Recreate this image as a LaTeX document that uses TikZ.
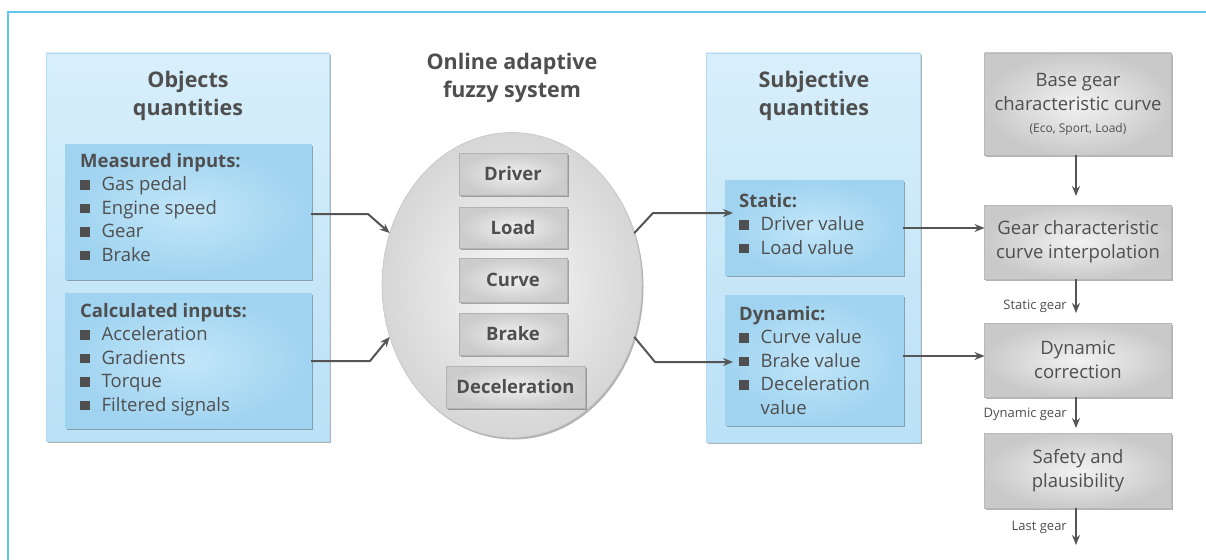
\documentclass[tikz,border=0pt]{standalone}
\usepackage{fontspec}
\setmainfont{Open Sans}
\usetikzlibrary{shapes.geometric,shadows,arrows.meta,calc}
\definecolor{txt}{HTML}{4F4F4F}
\definecolor{framec}{HTML}{5CC8EE}
\definecolor{bigtop}{HTML}{D8EFFB}
\definecolor{bigbot}{HTML}{BAE1F6}
\definecolor{inin}{HTML}{C2E6F9}
\definecolor{inout}{HTML}{9FD3F0}
\definecolor{arr}{HTML}{555555}
\newcommand\bul{\rule[1pt]{9.5pt}{9.5pt}}
\tikzset{
  shd/.style={drop shadow={shadow xshift=1.5pt,shadow yshift=-2pt,opacity=0.3,fill=black}},
  bigbox/.style={shd,draw=inout!80,line width=0.6pt,top color=bigtop,bottom color=bigbot,inner sep=0pt,outer sep=0pt,anchor=north west},
  inbox/.style={shd,draw=inout,line width=0.6pt,shading=radial,inner color=inin,outer color=inout,inner sep=0pt,outer sep=0pt,anchor=north west},
  graybox/.style={shd,draw=gray!55,line width=0.6pt,shading=radial,inner color=gray!10,outer color=gray!42,text=txt,align=center,outer sep=0pt,inner sep=0pt,font=\fontsize{18.5}{24}\selectfont},
  fzbox/.style={shd,draw=gray!60,line width=0.6pt,shading=radial,inner color=gray!12,outer color=gray!40,text=txt,font=\bfseries\fontsize{18.5}{20}\selectfont,inner sep=0pt,outer sep=0pt},
  ttl/.style={text=txt,align=center,font=\bfseries\fontsize{21.5}{28}\selectfont,inner sep=0pt},
  lst/.style={text=txt,inner sep=0pt,anchor=north west,font=\fontsize{18.5}{23.5}\selectfont},
  lbl/.style={text=txt,inner sep=0pt,anchor=base east,font=\fontsize{13}{15}\selectfont},
  con/.style={draw=arr,line width=2pt,-{Stealth[length=10pt,width=8pt]}},
}
\begin{document}
\begin{tikzpicture}[x=1pt,y=-1pt]
\path[use as bounding box,fill=white] (0,0) rectangle (1206,559);
\draw[framec,line width=1.8pt] (1210,12) -- (8,12) -- (8,562);

% left panel
\node[bigbox,minimum width=283,minimum height=388] (objq) at (46,53) {};
\node[ttl] (objqt) at (188,96) {Objects\\quantities};
\node[inbox,minimum width=246,minimum height=135] (meas) at (65,144) {};
\node[lst] (meast) at (80,150.5) {\begin{tabular}{@{}l@{\hspace{12pt}}l@{}}
\multicolumn{2}{@{}l@{}}{\bfseries Measured inputs:}\\
\bul & Gas pedal\\ \bul & Engine speed\\ \bul & Gear\\ \bul & Brake\end{tabular}};
\node[inbox,minimum width=246,minimum height=135] (calc) at (65,293) {};
\node[lst] (calct) at (80,300.5) {\begin{tabular}{@{}l@{\hspace{12pt}}l@{}}
\multicolumn{2}{@{}l@{}}{\bfseries Calculated inputs:}\\
\bul & Acceleration\\ \bul & Gradients\\ \bul & Torque\\ \bul & Filtered signals\end{tabular}};

% fuzzy system
\node[ttl] (fzt) at (512,78) {Online adaptive\\fuzzy system};
\node[ellipse,shd,draw=gray!45,line width=0.6pt,shading=radial,inner color=gray!6,outer color=gray!32,minimum width=260,minimum height=305,inner sep=0pt,outer sep=0pt] (ell) at (512,285) {};
\node[fzbox,minimum width=108,minimum height=42] (drv) at (513,174) {Driver};
\node[fzbox,minimum width=108,minimum height=41] (lod) at (513,227.5) {Load};
\node[fzbox,minimum width=108,minimum height=44] (crv) at (513,280) {Curve};
\node[fzbox,minimum width=108,minimum height=42] (brk) at (513,334) {Brake};
\node[fzbox,minimum width=139,minimum height=42] (dec) at (515.5,387) {Deceleration};

% subjective panel
\node[bigbox,minimum width=214,minimum height=389] (subq) at (706,53) {};
\node[ttl] (subqt) at (814,96) {Subjective\\quantities};
\node[inbox,minimum width=178,minimum height=95] (stat) at (725,180) {};
\node[lst] (statt) at (739,190.5) {\begin{tabular}{@{}l@{\hspace{12pt}}l@{}}
\multicolumn{2}{@{}l@{}}{\bfseries Static:}\\
\bul & Driver value\\ \bul & Load value\end{tabular}};
\node[inbox,minimum width=178,minimum height=130] (dyn) at (725,295) {};
\node[lst] (dynt) at (739,303.5) {\begin{tabular}{@{}l@{\hspace{12pt}}l@{}}
\multicolumn{2}{@{}l@{}}{\bfseries Dynamic:}\\
\bul & Curve value\\ \bul & Brake value\\ \bul & Deceleration\\ & value\end{tabular}};

% gear column
\node[graybox,minimum width=187,minimum height=102] (base) at (1078,104) {Base gear\\characteristic curve\\[-2pt]{\fontsize{12}{14}\selectfont (Eco, Sport, Load)}};
\node[graybox,minimum width=187,minimum height=74] (gci) at (1078,242) {Gear characteristic\\curve interpolation};
\node[graybox,minimum width=187,minimum height=74] (dcor) at (1078,360) {Dynamic\\correction};
\node[graybox,minimum width=187,minimum height=75] (safe) at (1078,470.5) {Safety and\\plausibility};
\coordinate (outc) at (1076,545);

% connectors
\draw[con] (311,214) -- (368,214) -- (ell.157);
\draw[con] (311,361) -- (370,361) -- (ell.203);
\draw[con] (ell.23) -- (653,213) -- (733,213);
\draw[con] (ell.-23) -- (655,362) -- (733,362);
\draw[con] (stat.east |- 0,228) -- (gci.west |- 0,228);
\draw[con] (dyn.east |- 0,356) -- (dcor.west |- 0,356);
\draw[con,shorten >=9pt] (base.south -| 1076,0) -- (gci.north -| 1076,0);
\draw[con,shorten >=10pt] (gci.south -| 1076,0) -- (dcor.north -| 1076,0);
\draw[con,shorten >=5pt] (dcor.south -| 1076,0) -- (safe.north -| 1076,0);
\draw[con] (safe.south -| 1076,0) -- (outc);
\node[lbl] (sg) at (1067,309) {Static gear};
\node[lbl] (dg) at (1067,417) {Dynamic gear};
\node[lbl] (lg) at (1067,530) {Last gear};
\end{tikzpicture}
\end{document}
